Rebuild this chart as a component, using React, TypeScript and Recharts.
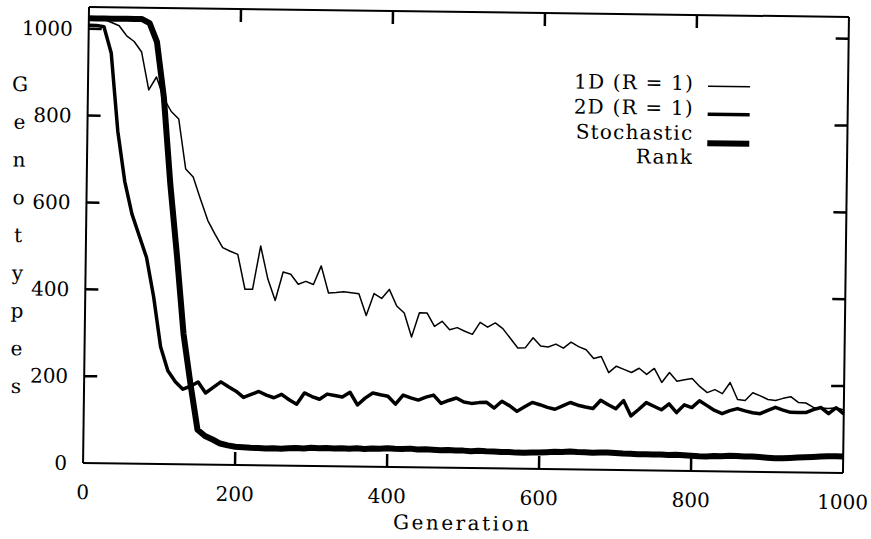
import { LineChart, Line, XAxis, YAxis, Legend } from 'recharts';

const FONT = '"DejaVu Serif", "Liberation Serif", serif';

// generation numbers (sampled every 10 generations)
const generations = [
  0, 10, 20, 30, 40, 50, 60, 70, 80, 90,
  100, 110, 120, 130, 140, 150, 160, 170, 180, 190,
  200, 210, 220, 230, 240, 250, 260, 270, 280, 290,
  300, 310, 320, 330, 340, 350, 360, 370, 380, 390,
  400, 410, 420, 430, 440, 450, 460, 470, 480, 490,
  500, 510, 520, 530, 540, 550, 560, 570, 580, 590,
  600, 610, 620, 630, 640, 650, 660, 670, 680, 690,
  700, 710, 720, 730, 740, 750, 760, 770, 780, 790,
  800, 810, 820, 830, 840, 850, 860, 870, 880, 890,
  900, 910, 920, 930, 940, 950, 960, 970, 980, 990, 1000,
];

// 1D (R = 1)
const oneD = [
  1024, 1024, 1022, 1015, 1008, 985, 972, 948, 861, 891,
  842, 812, 795, 680, 662, 611, 562, 530, 500, 492,
  485, 405, 405, 505, 429, 380, 446, 441, 418, 425,
  418, 461, 399, 400, 402, 400, 398, 348, 399, 388,
  409, 371, 355, 300, 356, 356, 325, 337, 318, 323,
  315, 308, 336, 325, 335, 322, 300, 278, 279, 302,
  283, 281, 288, 279, 293, 283, 276, 256, 261, 224,
  239, 232, 225, 235, 221, 235, 203, 226, 206, 210,
  213, 195, 181, 188, 179, 205, 166, 164, 182, 175,
  167, 165, 170, 174, 161, 160, 150, 149, 148, 150, 145,
];

// 2D (R = 1)
const twoD = [
  1008, 1008, 1005, 945, 765, 650, 575, 525, 475, 385,
  270, 215, 190, 173, 180, 190, 165, 178, 191, 180,
  170, 156, 163, 170, 162, 156, 164, 152, 142, 168,
  160, 154, 166, 163, 160, 171, 142, 158, 170, 166,
  163, 145, 166, 160, 155, 162, 167, 148, 155, 161,
  152, 149, 151, 152, 139, 155, 145, 132, 143, 153,
  148, 142, 138, 146, 154, 148, 144, 141, 160, 150,
  141, 160, 125, 140, 156, 148, 140, 154, 134, 152,
  146, 162, 151, 140, 133, 140, 145, 140, 136, 134,
  142, 149, 143, 138, 138, 138, 145, 150, 136, 150, 136,
];

// Stochastic Rank
const stochastic = [
  1024, 1024, 1024, 1024, 1024, 1024, 1024, 1024, 1015, 972,
  845, 645, 480, 300, 185, 80, 66, 58, 49, 45,
  42, 41, 40, 40, 39, 40, 39, 40, 41, 40,
  42, 41, 42, 41, 42, 41, 42, 41, 42, 42,
  43, 42, 42, 43, 41, 42, 41, 40, 41, 40,
  40, 39, 40, 39, 39, 38, 38, 37, 37, 38,
  38, 39, 40, 40, 41, 40, 40, 39, 40, 40,
  39, 38, 38, 37, 37, 37, 37, 36, 37, 36,
  35, 34, 34, 35, 35, 36, 36, 35, 35, 34,
  33, 32, 32, 33, 34, 35, 36, 37, 38, 38, 38,
];

const xTicks = [0, 200, 400, 600, 800, 1000];
const yTicks = [0, 200, 400, 600, 800, 1000];
const yTitle = ['G', 'e', 'n', 'o', 't', 'y', 'p', 'e', 's'];

const legendRows = [
  { label: '1D (R = 1)', width: 1.5 },
  { label: '2D (R = 1)', width: 3.5 },
  { label: 'Stochastic', width: 6 },
];

const W = 871;
const H = 539;
const X_MAX = 1000;
const Y_MAX = 1050;

// chart layout: margins + axis sizes give the plot box
const MARGIN = { top: 11, right: 24, bottom: 41, left: 26 };
const Y_AXIS_W = 60;
const X_AXIS_H = 30;
const PLOT = {
  left: MARGIN.left + Y_AXIS_W,
  right: W - MARGIN.right - 1,
  top: MARGIN.top + 1,
  bottom: H - MARGIN.bottom - X_AXIS_H,
};

const TICK_LEN = 13;
const TICK_W = 2.5;

function BottomTick({ x, y, payload }: any) {
  return (
    <text x={x} y={y + 36} textAnchor="middle" fill="#000" fontSize={20} fontFamily={FONT}>
      {payload.value}
    </text>
  );
}

function LeftTick({ x, y, payload }: any) {
  return (
    <text x={x - 16} y={y + 7} textAnchor="end" fill="#000" fontSize={20} fontFamily={FONT}>
      {payload.value}
    </text>
  );
}

function NoTick() {
  return <g />;
}

function StackedTitle() {
  return (
    <g>
      {yTitle.map((ch, i) => (
        <text
          key={i}
          x={18}
          y={97 + i * 37.75}
          textAnchor="middle"
          fill="#000"
          fontSize={20}
          fontFamily={FONT}
        >
          {ch}
        </text>
      ))}
    </g>
  );
}

// overlay: legend block plus the inward tick marks on all four sides
function PlotKey() {
  const baselines = [87, 112, 137];
  const sampleY = [83, 111, 140];
  const px = (v: number) => PLOT.left + (v / X_MAX) * (PLOT.right - PLOT.left);
  const py = (v: number) => PLOT.bottom - (v / Y_MAX) * (PLOT.bottom - PLOT.top);
  return (
    <svg width={W} height={H} style={{ position: 'absolute', left: 0, top: 0 }}>
      <g stroke="#000" strokeWidth={TICK_W}>
        {xTicks.slice(1, -1).map((t) => (
          <g key={`x${t}`}>
            <line x1={px(t)} x2={px(t)} y1={PLOT.bottom} y2={PLOT.bottom - TICK_LEN} />
            <line x1={px(t)} x2={px(t)} y1={PLOT.top} y2={PLOT.top + TICK_LEN} />
          </g>
        ))}
        {yTicks.slice(1).map((t) => (
          <g key={`y${t}`}>
            <line x1={PLOT.left} x2={PLOT.left + TICK_LEN} y1={py(t)} y2={py(t)} />
            <line x1={PLOT.right} x2={PLOT.right - TICK_LEN} y1={py(t)} y2={py(t)} />
          </g>
        ))}
      </g>
      {legendRows.map((r, i) => (
        <g key={r.label}>
          <text
            x={692}
            y={baselines[i]}
            textAnchor="end"
            fontSize={20}
            fontFamily={FONT}
            letterSpacing={1.2}
            fill="#000"
          >
            {r.label}
          </text>
          <line x1={706} x2={748} y1={sampleY[i]} y2={sampleY[i]} stroke="#000" strokeWidth={r.width} />
        </g>
      ))}
      <text x={692} y={161} textAnchor="end" fontSize={20} fontFamily={FONT} letterSpacing={1.2} fill="#000">
        Rank
      </text>
    </svg>
  );
}

const axisStroke = { stroke: '#000', strokeWidth: 2 };

export default function App() {
  const data = generations.map((g, i) => ({
    g,
    oneD: oneD[i],
    twoD: twoD[i],
    stochastic: stochastic[i],
  }));

  return (
    <div
      style={{
        position: 'absolute',
        left: 0,
        top: 0,
        width: W,
        height: H,
        background: '#fff',
        transform: 'rotate(0.75deg)',
        transformOrigin: '465px 240px',
      }}
    >
      <LineChart width={W} height={H} data={data} margin={MARGIN}>
        <XAxis
          xAxisId="b"
          dataKey="g"
          type="number"
          domain={[0, X_MAX]}
          ticks={xTicks}
          interval={0}
          orientation="bottom"
          height={X_AXIS_H}
          tickSize={0}
          tickMargin={0}
          axisLine={axisStroke}
          tickLine={false}
          tick={<BottomTick />}
          label={{
            value: 'Generation',
            position: 'insideBottom',
            offset: -32,
            fill: '#000',
            fontSize: 20,
            fontFamily: FONT,
            letterSpacing: 2.5,
          }}
        />
        <XAxis
          xAxisId="t"
          dataKey="g"
          type="number"
          domain={[0, X_MAX]}
          ticks={xTicks}
          interval={0}
          orientation="top"
          height={1}
          tickSize={0}
          tickMargin={0}
          axisLine={axisStroke}
          tickLine={false}
          tick={<NoTick />}
        />
        <YAxis
          yAxisId="l"
          type="number"
          domain={[0, Y_MAX]}
          ticks={yTicks}
          interval={0}
          orientation="left"
          width={Y_AXIS_W}
          tickSize={0}
          tickMargin={0}
          axisLine={axisStroke}
          tickLine={false}
          tick={<LeftTick />}
          label={<StackedTitle />}
        />
        <YAxis
          yAxisId="r"
          type="number"
          domain={[0, Y_MAX]}
          ticks={yTicks}
          interval={0}
          orientation="right"
          width={1}
          tickSize={0}
          tickMargin={0}
          axisLine={axisStroke}
          tickLine={false}
          tick={<NoTick />}
        />
        <Legend
          layout="vertical"
          align="center"
          verticalAlign="middle"
          content={<PlotKey />}
          wrapperStyle={{ left: 0, top: 0, width: W, height: H, pointerEvents: 'none' }}
        />
        <Line
          xAxisId="b"
          yAxisId="l"
          type="linear"
          dataKey="oneD"
          name="1D (R = 1)"
          stroke="#000"
          strokeWidth={1.5}
          strokeLinejoin="round"
          dot={false}
          isAnimationActive={false}
        />
        <Line
          xAxisId="b"
          yAxisId="l"
          type="linear"
          dataKey="twoD"
          name="2D (R = 1)"
          stroke="#000"
          strokeWidth={3.5}
          strokeLinejoin="round"
          dot={false}
          isAnimationActive={false}
        />
        <Line
          xAxisId="b"
          yAxisId="l"
          type="linear"
          dataKey="stochastic"
          name="Stochastic Rank"
          stroke="#000"
          strokeWidth={6}
          strokeLinejoin="round"
          dot={false}
          isAnimationActive={false}
        />
      </LineChart>
    </div>
  );
}
